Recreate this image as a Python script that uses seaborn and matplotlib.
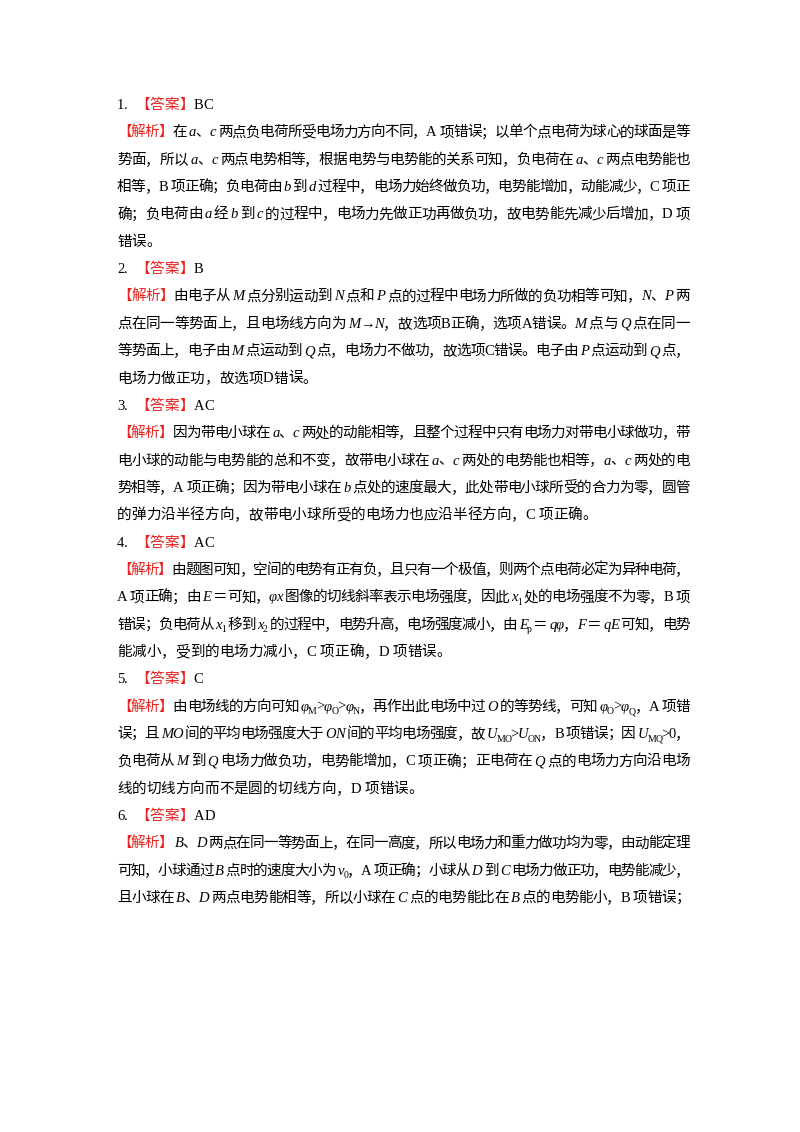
import re
import matplotlib
matplotlib.use("Agg")
import matplotlib.pyplot as plt
from matplotlib.font_manager import FontProperties, findfont, get_font
import seaborn as sns

sns.set_style("white")

# page text, one entry per printed line; {i:..} italic, {s:..} subscript, {r:..} red
lines = [
    "1.  {r:【答案】}BC",
    "{r:【解析】}在{i:a}、{i:c}两点负电荷所受电场力方向不同，A 项错误；以单个点电荷为球心的球面是等",
    "势面，所以{i:a}、{i:c}两点电势相等，根据电势与电势能的关系可知，负电荷在{i:a}、{i:c}两点电势能也",
    "相等，B 项正确；负电荷由{i:b}到{i:d}过程中，电场力始终做负功，电势能增加，动能减少，C 项正",
    "确；负电荷由{i:a}经{i:b}到{i:c}的过程中，电场力先做正功再做负功，故电势能先减少后增加，D 项",
    "错误。",
    "2.  {r:【答案】}B",
    "{r:【解析】}由电子从{i:M}点分别运动到{i:N}点和{i:P}点的过程中电场力所做的负功相等可知，{i:N}、{i:P}两",
    "点在同一等势面上，且电场线方向为{i:M}→{i:N}，故选项B正确，选项A错误。{i:M}点与{i:Q}点在同一",
    "等势面上，电子由{i:M}点运动到{i:Q}点，电场力不做功，故选项C错误。电子由{i:P}点运动到{i:Q}点，",
    "电场力做正功，故选项D错误。",
    "3.  {r:【答案】}AC",
    "{r:【解析】}因为带电小球在{i:a}、{i:c}两处的动能相等，且整个过程中只有电场力对带电小球做功，带",
    "电小球的动能与电势能的总和不变，故带电小球在{i:a}、{i:c}两处的电势能也相等，{i:a}、{i:c}两处的电",
    "势相等，A 项正确；因为带电小球在{i:b}点处的速度最大，此处带电小球所受的合力为零，圆管",
    "的弹力沿半径方向，故带电小球所受的电场力也应沿半径方向，C 项正确。",
    "4.  {r:【答案】}AC",
    "{r:【解析】}由题图可知，空间的电势有正有负，且只有一个极值，则两个点电荷必定为异种电荷，",
    "A 项正确；由{i:E}＝可知，{i:φx}图像的切线斜率表示电场强度，因此{i:x}{s:1}处的电场强度不为零，B 项",
    "错误；负电荷从{i:x}{s:1}移到{i:x}{s:2}的过程中，电势升高，电场强度减小，由{i:E}{s:p}＝{i:qφ}，{i:F}＝{i:qE}可知，电势",
    "能减小，受到的电场力减小，C 项正确，D 项错误。",
    "5.  {r:【答案】}C",
    "{r:【解析】}由电场线的方向可知{i:φ}{s:M}>{i:φ}{s:O}>{i:φ}{s:N}，再作出此电场中过{i:O}的等势线，可知{i:φ}{s:O}>{i:φ}{s:Q}，A 项错",
    "误；且{i:MO}间的平均电场强度大于{i:ON}间的平均电场强度，故{i:U}{s:MO}>{i:U}{s:ON}，B 项错误；因{i:U}{s:MQ}>0，",
    "负电荷从{i:M}到{i:Q}电场力做负功，电势能增加，C 项正确；正电荷在{i:Q}点的电场力方向沿电场",
    "线的切线方向而不是圆的切线方向，D 项错误。",
    "6.  {r:【答案】}AD",
    "{r:【解析】}{i:B}、{i:D}两点在同一等势面上，在同一高度，所以电场力和重力做功均为零，由动能定理",
    "可知，小球通过{i:B}点时的速度大小为{i:v}{s:0}，A 项正确；小球从{i:D}到{i:C}电场力做正功，电势能减少，",
    "且小球在{i:B}、{i:D}两点电势能相等，所以小球在{i:C}点的电势能比在{i:B}点的电势能小，B 项错误；",
]
# lines stretched to the full text width
justified = [1, 2, 3, 4, 7, 8, 9, 12, 13, 14, 17, 18, 19, 22, 23, 24, 27, 28, 29]

LEFT, RIGHT = 117, 690
TOP, STEP = 109, 27.35
SIZE, SUB = 10.5, 7.0
RED = "#e8231f"
PAD = 2.5  # extra room around latin runs next to CJK text

fp_cjk = FontProperties(family="Noto Sans CJK SC", size=SIZE)
fp_lat = FontProperties(family="Liberation Serif", size=SIZE)
fp_ita = FontProperties(family="Liberation Serif", style="italic", size=SIZE)
fp_sub = FontProperties(family="Liberation Serif", size=SUB)


def advance(ch, fp, size):
    font = get_font(findfont(fp))
    font.set_size(size, 100)
    g = font.load_char(ord(ch))
    return g.linearHoriAdvance / 65536


def is_cjk(ch):
    return ord(ch) >= 0x2000 and ch != "→"


def parse(line):
    chars = []
    for m in re.finditer(r"\{(\w):([^}]*)\}|([^{]+)", line):
        kind = m.group(1) or "n"
        txt = m.group(2) if m.group(1) else m.group(3)
        for ch in txt:
            if kind == "s":
                fp, size, dy, col = fp_sub, SUB, 3.5, "black"
            elif kind == "i":
                fp, size, dy, col = fp_ita, SIZE, 0, "black"
            else:
                fp, size, dy = (fp_cjk if is_cjk(ch) else fp_lat), SIZE, 0
                col = RED if kind == "r" else "black"
            chars.append([ch, fp, size, dy, col, advance(ch, fp, size)])
    # a little space where italic/latin meets plain CJK characters
    for a, b in zip(chars[:-1], chars[1:]):
        ca, cb = is_cjk(a[0]) and a[1] is fp_cjk, is_cjk(b[0]) and b[1] is fp_cjk
        if ca != cb and a[0] not in "，、；。" and b[0] not in "，、；。":
            if a[1] is fp_ita or b[1] is fp_ita or a[1] is fp_sub:
                a[5] += PAD
    return chars


fig = plt.figure(figsize=(8, 11.32), dpi=100)
ax = fig.add_axes([0, 0, 1, 1])
ax.set_xlim(0, 800)
ax.set_ylim(1132, 0)
ax.axis("off")

for i, line in enumerate(lines):
    chars = parse(line)
    gap = 0
    if i in justified and len(chars) > 1:
        natural = sum(c[5] for c in chars)
        gap = (RIGHT - LEFT - natural) / (len(chars) - 1)
    x = LEFT
    y = TOP + i * STEP
    for ch, fp, size, dy, col, adv in chars:
        if ch != " ":
            ax.text(x, y + dy, ch, fontproperties=fp, color=col,
                    ha="left", va="baseline")
        x += adv + gap

fig.savefig("out.png", dpi=100, facecolor="white")
